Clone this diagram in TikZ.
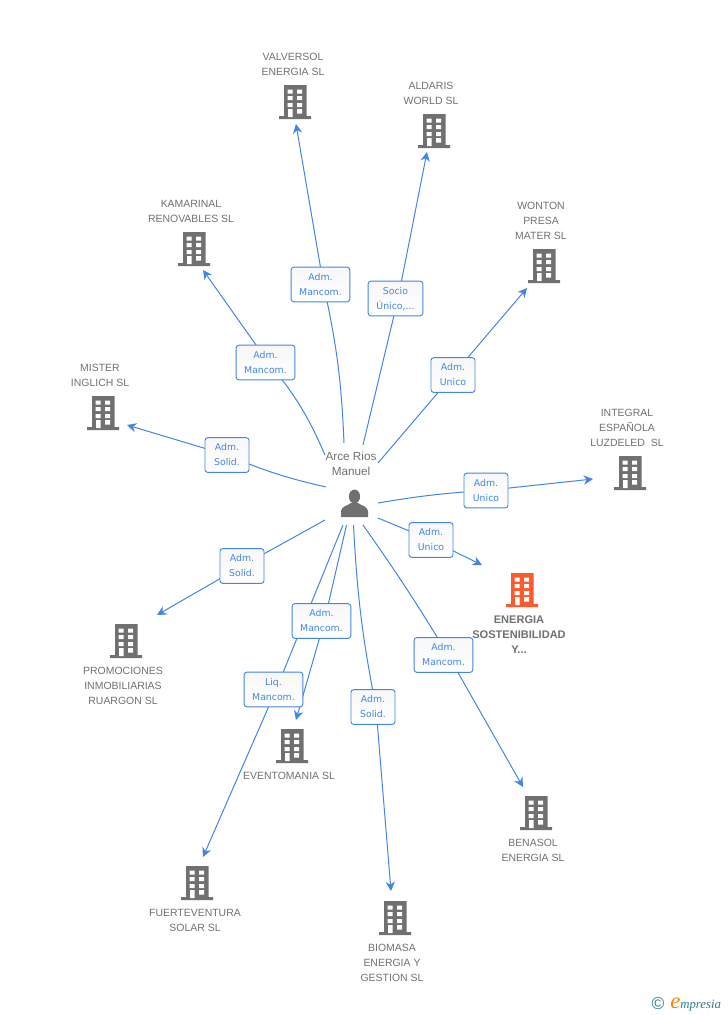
\documentclass[tikz,border=0pt]{standalone}
\usepackage{fontspec}
\setmainfont{Liberation Sans}
\newfontfamily\rolefont{DejaVu Sans}
\newfontfamily\logofont{Liberation Serif}
\usetikzlibrary{arrows.meta,backgrounds}
\definecolor{linkblue}{HTML}{4285E4}
\definecolor{iconcolor}{HTML}{707070}
\definecolor{maincolor}{HTML}{FF5A2D}
\definecolor{logoteal}{HTML}{2E7C91}
\tikzset{
  building/.pic={
    \fill[pic actions] (-11,-34) rectangle (11.5,-2) (-16,-3) rectangle (16,0);
    \fill[white] (-7.5,-29.5) rectangle (-2.5,-25.5) (2,-29.5) rectangle (7,-25.5)
      (-7.5,-23) rectangle (-2.5,-19) (2,-23) rectangle (7,-19)
      (-7.5,-16) rectangle (-2.5,-12) (2,-16) rectangle (7,-12)
      (-7,-10) rectangle (-2.5,-2) (2,-10) rectangle (7,-5.5);
  }
}
\begin{document}
\begin{tikzpicture}[x=0.75pt,y=-0.75pt]
    \tikzstyle{company} = [align=center, text=iconcolor, font=\fontsize{7.85}{11.25}\selectfont, inner sep=0pt]
    \tikzstyle{role} = [rectangle, draw=linkblue, rounded corners=2pt, line width=0.7pt, top color=black!3, bottom color=white, text=linkblue, align=center, inner sep=0pt, minimum height=26pt, font=\rolefont\fontsize{7}{11.25}\selectfont]
    \tikzstyle{arrow} = [draw=linkblue, line width=0.75pt, -{Stealth[length=7pt,width=7pt]}]
    \tikzstyle{link} = [draw=linkblue, line width=0.75pt]

    \useasboundingbox (0,0) rectangle (728,1015);

    \node (arce) [company, font=\fontsize{8.8}{11.25}\selectfont] at (351,463.5) {Arce Rios\\Manuel};
    \fill[iconcolor] (354.5,496.5) ellipse (5.6 and 7);
    \fill[iconcolor] (341,517) -- (341,511) .. controls (342,506) and (347,506) .. (351,503) -- (358,503) .. controls (362,506) and (367,506) .. (368,511) -- (368,517) -- cycle;

    \pic[fill=iconcolor] at (295,119) {building};
    \pic[fill=iconcolor] at (434,148) {building};
    \pic[fill=iconcolor] at (194,266) {building};
    \pic[fill=iconcolor] at (544,283) {building};
    \pic[fill=iconcolor] at (103,430) {building};
    \pic[fill=iconcolor] at (630,490) {building};
    \pic[fill=maincolor] at (522,607) {building};
    \pic[fill=iconcolor] at (126,658) {building};
    \pic[fill=iconcolor] at (292,763) {building};
    \pic[fill=iconcolor] at (197,900) {building};
    \pic[fill=iconcolor] at (395,935) {building};
    \pic[fill=iconcolor] at (536,830) {building};

    \node (valversol) [company] at (293,64) {VALVERSOL\\ENERGIA SL};
    \node (aldaris) [company] at (431,93) {ALDARIS\\WORLD SL};
    \node (kamarinal) [company] at (191,211) {KAMARINAL\\RENOVABLES SL};
    \node (wonton) [company] at (541,220.5) {WONTON\\PRESA\\MATER SL};
    \node (mister) [company] at (100,375) {MISTER\\INGLICH SL};
    \node (integral) [company] at (627,427.5) {INTEGRAL\\ESPAÑOLA\\LUZDELED\ \ SL};
    \node (energia) [company, font=\fontsize{8.3}{11.25}\selectfont\bfseries] at (519,635) {ENERGIA\\SOSTENIBILIDAD\\Y...};
    \node (promociones) [company] at (123,685.5) {PROMOCIONES\\INMOBILIARIAS\\RUARGON SL};
    \node (eventomania) [company] at (289,775.5) {EVENTOMANIA SL};
    \node (fuerteventura) [company] at (195,920) {FUERTEVENTURA\\SOLAR SL};
    \node (biomasa) [company] at (392,962.5) {BIOMASA\\ENERGIA Y\\GESTION SL};
    \node (benasol) [company] at (533,850) {BENASOL\\ENERGIA SL};

    \coordinate (s1) at (344,443);
    \coordinate (s2) at (363,445);
    \coordinate (s3) at (325,455);
    \coordinate (s4) at (378,463);
    \coordinate (s5) at (326,487);
    \coordinate (s6) at (378,503);
    \coordinate (s7) at (378,518);
    \coordinate (s8) at (325,520);
    \coordinate (s9) at (346.5,525);
    \coordinate (s10) at (343,525);
    \coordinate (s11) at (353.5,525);
    \coordinate (s12) at (363,525);

    \coordinate (e1) at (296,124);
    \coordinate (e2) at (427,152);
    \coordinate (e3) at (203,270);
    \coordinate (e4) at (527,288);
    \coordinate (e5) at (127,425);
    \coordinate (e6) at (593,479);
    \coordinate (e7) at (482,565);
    \coordinate (e8) at (157,615);
    \coordinate (e9) at (296,720);
    \coordinate (e10) at (203,857);
    \coordinate (e11) at (391,891);
    \coordinate (e12) at (523,787);

    \node (r1) [role, minimum width=44pt] at (320.5,284.5) {Adm.\\Mancom.};
    \node (r2) [role, minimum width=41pt] at (395.5,298.5) {Socio\\Único,...};
    \node (r3) [role, minimum width=44pt] at (265.5,362.5) {Adm.\\Mancom.};
    \node (r4) [role, minimum width=33pt] at (453,375) {Adm.\\Unico};
    \node (r5) [role, minimum width=33pt] at (227,455) {Adm.\\Solid.};
    \node (r6) [role, minimum width=33pt] at (486,490.5) {Adm.\\Unico};
    \node (r7) [role, minimum width=33pt] at (431,540) {Adm.\\Unico};
    \node (r8) [role, minimum width=33pt] at (242,566) {Adm.\\Solid.};
    \node (r9) [role, minimum width=44pt] at (321.5,621) {Adm.\\Mancom.};
    \node (r10) [role, minimum width=44pt] at (273.5,689.5) {Liq.\\Mancom.};
    \node (r11) [role, minimum width=33pt] at (373,707) {Adm.\\Solid.};
    \node (r12) [role, minimum width=44pt] at (443.5,655) {Adm.\\Mancom.};

    \begin{scope}[on background layer]
    \draw [link] (s1) to[bend right=5] ([xshift=2.2pt]r1.center);
    \draw [arrow] ([xshift=2.2pt]r1.center) -- (e1);
    \draw [link] (s2) -- ([xshift=1.9pt]r2.center);
    \draw [arrow] ([xshift=1.9pt]r2.center) -- (e2);
    \draw [link] (s3) to[bend right=8] ([xshift=2.2pt]r3.center);
    \draw [arrow] ([xshift=2.2pt]r3.center) -- (e3);
    \draw [link] (s4) -- (r4.center);
    \draw [arrow] (r4.center) -- (e4);
    \draw [link] (s5) to[bend left=5] (r5.center);
    \draw [arrow] (r5.center) -- (e5);
    \draw [link] (s6) to[bend left=3] (r6.center);
    \draw [arrow] (r6.center) -- (e6);
    \draw [link] (s7) -- (r7.center);
    \draw [arrow] (r7.center) -- (e7);
    \draw [link] (s8) -- (r8.center);
    \draw [arrow] (r8.center) -- (e8);
    \draw [link] (s9) -- ([xshift=2.2pt]r9.center);
    \draw [arrow] ([xshift=2.2pt]r9.center) -- (e9);
    \draw [link] (s10) -- ([xshift=2pt]r10.center);
    \draw [arrow] ([xshift=2pt]r10.center) -- (e10);
    \draw [link] (s11) to[bend right=4] ([xshift=2.2pt]r11.center);
    \draw [arrow] ([xshift=2.2pt]r11.center) -- (e11);
    \draw [link] (s12) to[bend left=2] ([xshift=3.4pt]r12.center);
    \draw [arrow] ([xshift=3.4pt]r12.center) -- (e12);
    \end{scope}

    \node (copyright) [text=logoteal, inner sep=0pt, font=\fontsize{13}{13}\selectfont] at (658,1004) {©};
    \node (logo) [anchor=west, text=logoteal, inner sep=0pt, font=\logofont\itshape\fontsize{9.6}{10}\selectfont] at (670,1005) {{\color{orange}\fontsize{17}{17}\selectfont e}mpresia};
\end{tikzpicture}
\end{document}
